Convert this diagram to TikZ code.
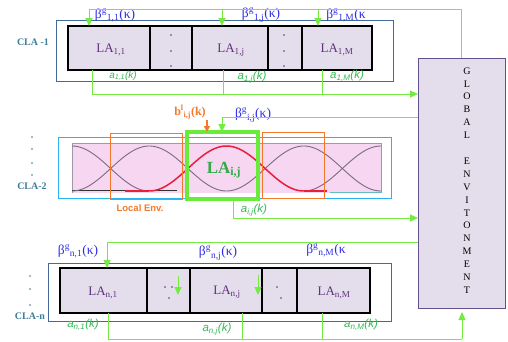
\documentclass[tikz,border=0pt]{standalone}
\usepackage{fontspec}
\setmainfont{Liberation Serif}
\newfontfamily\arial{Liberation Sans}
\usetikzlibrary{arrows.meta}
\definecolor{steel}{RGB}{70,105,155}
\definecolor{cyanbox}{RGB}{40,180,240}
\definecolor{lav}{RGB}{228,222,236}
\definecolor{lapurple}{RGB}{95,50,125}
\definecolor{betablue}{RGB}{45,45,230}
\definecolor{agreen}{RGB}{55,185,85}
\definecolor{lgreen}{RGB}{115,235,65}
\definecolor{bgreen}{RGB}{105,235,60}
\definecolor{ljgreen}{RGB}{50,170,70}
\definecolor{orng}{RGB}{245,120,40}
\definecolor{clateal}{RGB}{60,125,155}
\definecolor{globborder}{RGB}{100,80,140}
\definecolor{pinkbg}{RGB}{246,214,240}
\definecolor{curvegray}{RGB}{120,108,130}
\definecolor{curvered}{RGB}{232,30,60}
\definecolor{tealline}{RGB}{100,190,190}
\tikzset{
  cell/.style={draw=black, line width=1.6pt, fill=lav, inner sep=0pt, outer sep=0pt},
  outerbox/.style={draw=steel, line width=0.9pt, inner sep=0pt, outer sep=0pt},
  lalab/.style={text=lapurple, font=\fontsize{13}{15}\selectfont, inner sep=0pt},
  betalab/.style={text=betablue, font=\fontsize{13.5}{15}\selectfont, inner sep=0pt},
  alab/.style={text=agreen, font=\arial\itshape\fontsize{11.5}{13}\selectfont, inner sep=0pt},
  asmall/.style={alab, font=\arial\itshape\fontsize{10}{12}\selectfont},
  clalab/.style={text=clateal, font=\bfseries\fontsize{10}{12}\selectfont, inner sep=0pt},
  gl/.style={draw=lgreen, line width=1pt},
  garrow/.style={gl, -{Triangle[width=7pt,length=8pt]}},
  dotmark/.style={fill=lapurple, circle, inner sep=0pt, minimum size=1.6pt},
  lftdot/.style={fill=clateal, circle, inner sep=0pt, minimum size=1.8pt},
  envbox/.style={draw=orng, line width=1pt, inner sep=0pt, outer sep=0pt},
  mcurve/.style={draw=curvegray, line width=0.9pt},
}
\begin{document}
\begin{tikzpicture}[x=1pt,y=-1pt]
\useasboundingbox (0,0) rectangle (508,341);
\fill[white] (0,0) rectangle (508,341);

% ---------- Global environment ----------
\node[draw=globborder, line width=1pt, fill=lav, minimum width=87pt, minimum height=250pt, inner sep=0pt, outer sep=0pt] (glob) at (461.5,183) {};
\node[align=center, font=\fontsize{10}{12.9}\selectfont, inner sep=0pt] (globtxt) at (467,180.5)
  {G\\L\\O\\B\\A\\L\\\mbox{}\\E\\N\\V\\I\\T\\O\\N\\M\\E\\N\\T};

% ---------- CLA-1 ----------
\node[outerbox, minimum width=337pt, minimum height=61pt] (cla1) at (224.5,50.5) {};
\node[cell, minimum width=82pt, minimum height=44pt] (c11) at (109,48) {};
\node[cell, minimum width=42pt, minimum height=44pt] (c1d1) at (171,48) {};
\node[cell, minimum width=76pt, minimum height=44pt] (c1j) at (230,48) {};
\node[cell, minimum width=34pt, minimum height=44pt] (c1d2) at (285,48) {};
\node[cell, minimum width=70pt, minimum height=44pt] (c1M) at (337,48) {};
\node[lalab] (l11) at (111,50) {LA\textsubscript{1,1}};
\node[lalab] (l1j) at (231,50) {LA\textsubscript{1,j}};
\node[lalab] (l1M) at (337,50) {LA\textsubscript{1,M}};
\foreach \yy [count=\k] in {35,51,66}{
  \node[dotmark] (d1a\k) at (171,\yy) {};
  \node[dotmark] (d1b\k) at (284,\yy) {};
}
\node[clalab] (cla1lab) at (33,42) {CLA -1};

\node[betalab] (b11) at (115,15) {β\textsuperscript{g}\textsubscript{1,1}(κ)};
\node[betalab] (b1j) at (261,15) {β\textsuperscript{g}\textsubscript{1,j}(κ)};
\node[betalab] (b1M) at (346,15) {β\textsuperscript{g}\textsubscript{1,M}(κ};
\node[asmall] (a11) at (123,76) {a\textsubscript{1,1}(k)};
\node[alab] (a1j) at (252,77) {a\textsubscript{1,j}(k)};
\node[alab] (a1M) at (347,76) {a\textsubscript{1,M}(k)};

% top beta bus
\coordinate (gtop) at (461,58);
\coordinate (tb1) at (89,9);
\coordinate (tbj) at (222,9);
\coordinate (tbM) at (318,9);
\draw[gl] (gtop) |- (tb1);
\draw[garrow] (tb1) -- (tb1 |- c11.north);
\draw[garrow] (tbj) -- (tbj |- c1j.north);
\draw[garrow] (tbM) -- (tbM |- c1M.north);
% top action bus
\coordinate (ta1) at (92,94);
\coordinate (taj) at (223,94);
\coordinate (taM) at (322,94);
\draw[gl] (ta1 |- c11.south) -- (ta1);
\draw[gl] (taj |- c1j.south) -- (taj);
\draw[gl] (taM |- c1M.south) -- (taM);
\draw[garrow] (ta1) -- (ta1 -| glob.west);

% ---------- CLA-2 ----------
\fill[pinkbg] (72,143) rectangle (381,193);
\draw[curvegray!70, line width=0.8pt] (72,193) -- (72,143) -- (381,143) -- (381,193);
\draw[black!80, line width=1pt] (72,190) -- (177,190);
\draw[tealline, line width=1pt] (330,192) -- (381,192);
\draw[mcurve] plot[domain=72:149.25, samples=40, smooth] (\x,{191-22.5*(1+cos(180*(\x-72)/77.25))});
\draw[mcurve] plot[domain=72:226.5, samples=60, smooth] (\x,{191-22.5*(1+cos(180*(\x-149.25)/77.25))});
\draw[mcurve] plot[domain=226.5:381, samples=60, smooth] (\x,{191-22.5*(1+cos(180*(\x-303.75)/77.25))});
\draw[mcurve] plot[domain=303.75:381, samples=40, smooth] (\x,{191-22.5*(1+cos(180*(\x-381)/77.25))});
\draw[curvered, line width=1.5pt] (125,191) -- (149.25,191);
\draw[curvered, line width=1.5pt] plot[domain=149.25:303.75, samples=60, smooth] (\x,{191-22.5*(1+cos(180*(\x-226.5)/77.25))});
\draw[curvered, line width=1.5pt] (303.75,191) -- (327,191);

\node[draw=cyanbox, line width=1pt, minimum width=333pt, minimum height=61pt, inner sep=0pt, outer sep=0pt] (cla2) at (224.5,167.5) {};
\node[envbox, minimum width=72pt, minimum height=66pt] (env1) at (146,166) {};
\node[envbox, minimum width=62pt, minimum height=66pt] (env2) at (293,165) {};
\node[draw=bgreen, line width=4pt, minimum width=71pt, minimum height=67pt, inner sep=0pt, outer sep=0pt] (lij) at (222.5,165.5) {};
\node[text=ljgreen, font=\bfseries\fontsize{17}{19}\selectfont, inner sep=0pt] (lijtxt) at (224,170) {LA\textsubscript{i,j}};
\node[text=orng, font=\arial\bfseries\fontsize{9.5}{11}\selectfont, inner sep=0pt] (envlab) at (140,208) {Local Env.};
\node[text=orng, font=\bfseries\fontsize{12}{14}\selectfont, inner sep=0pt] (blij) at (190,112) {b\textsuperscript{l}\textsubscript{i,j}(k)};
\node[betalab] (bij) at (253,115) {β\textsuperscript{g}\textsubscript{i,j}(κ)};
\node[alab] (aij) at (254,210) {a\textsubscript{i,j}(k)};
\node[clalab] (cla2lab) at (32,186) {CLA-2};
\foreach \yy [count=\k] in {137,149,163,175}{
  \node[lftdot] (d2\k) at (32,\yy) {};
}
% local reinforcement arrow
\coordinate (bl) at (207,120);
\draw[draw=orng, line width=1.2pt, -{Triangle[width=6pt,length=6pt]}] (bl) -- (bl |- lij.north);
% beta_ij
\coordinate (mb) at (222,117);
\draw[garrow] (glob.west |- mb) -| (mb |- lij.north);
% a_ij
\coordinate (ma) at (233,218);
\draw[garrow] (ma |- lij.south) |- (glob.west |- ma);

% ---------- CLA-n ----------
\node[outerbox, minimum width=343pt, minimum height=58pt] (clan) at (219.5,292) {};
\node[cell, minimum width=87pt, minimum height=45pt] (cn1) at (103.5,290.5) {};
\node[cell, minimum width=43pt, minimum height=45pt] (cnd1) at (168.5,290.5) {};
\node[cell, minimum width=72pt, minimum height=45pt] (cnj) at (226,290.5) {};
\node[cell, minimum width=35pt, minimum height=45pt] (cnd2) at (279.5,290.5) {};
\node[cell, minimum width=73pt, minimum height=45pt] (cnM) at (333.5,290.5) {};
\node[lalab] (ln1) at (103,293) {LA\textsubscript{n,1}};
\node[lalab] (lnj) at (227,292) {LA\textsubscript{n,j}};
\node[lalab] (lnM) at (334,293) {LA\textsubscript{n,M}};
\node[dotmark] (dn1) at (165,287) {};
\node[dotmark] (dn2) at (172,287) {};
\node[dotmark] (dn3) at (169,298) {};
\node[dotmark] (dn4) at (277,287) {};
\node[dotmark] (dn5) at (281,298) {};
\node[clalab] (clanlab) at (30,316) {CLA-n};
\foreach \yy [count=\k] in {276,289,305}{
  \node[lftdot] (dl\k) at (30,\yy) {};
}
\node[betalab] (bn1) at (78,251) {β\textsuperscript{g}\textsubscript{n,1}(κ)};
\node[betalab] (bnj) at (218,253) {β\textsuperscript{g}\textsubscript{n,j}(κ)};
\node[betalab] (bnM) at (326,250) {β\textsuperscript{g}\textsubscript{n,M}(κ};
\node[alab] (an1) at (83,325) {a\textsubscript{n,1}(k)};
\node[alab] (anj) at (217,329) {a\textsubscript{n,j}(k)};
\node[alab] (anM) at (361,325) {a\textsubscript{n,M}(k)};

% bottom beta bus
\coordinate (bb1) at (107,242);
\draw[garrow] (glob.west |- bb1) -| (bb1 |- cn1.north);
% short arrows inside cells
\coordinate (sa1) at (178,276);
\coordinate (sa1e) at (178,295);
\coordinate (sa2) at (258,275);
\coordinate (sa2e) at (258,295);
\draw[garrow] (sa1) -- (sa1e);
\draw[garrow] (sa2) -- (sa2e);
% bottom action bus
\coordinate (ba1) at (108,339);
\coordinate (baj) at (242,339);
\coordinate (baM) at (322,339);
\coordinate (bg) at (462,339);
\draw[gl] (ba1 |- cn1.south) -- (ba1) -- (bg);
\draw[gl] (baj |- cnj.south) -- (baj);
\draw[gl] (baM |- cnM.south) -- (baM);
\draw[garrow, shorten >=4pt] (bg) -- (bg |- glob.south);
\end{tikzpicture}
\end{document}
